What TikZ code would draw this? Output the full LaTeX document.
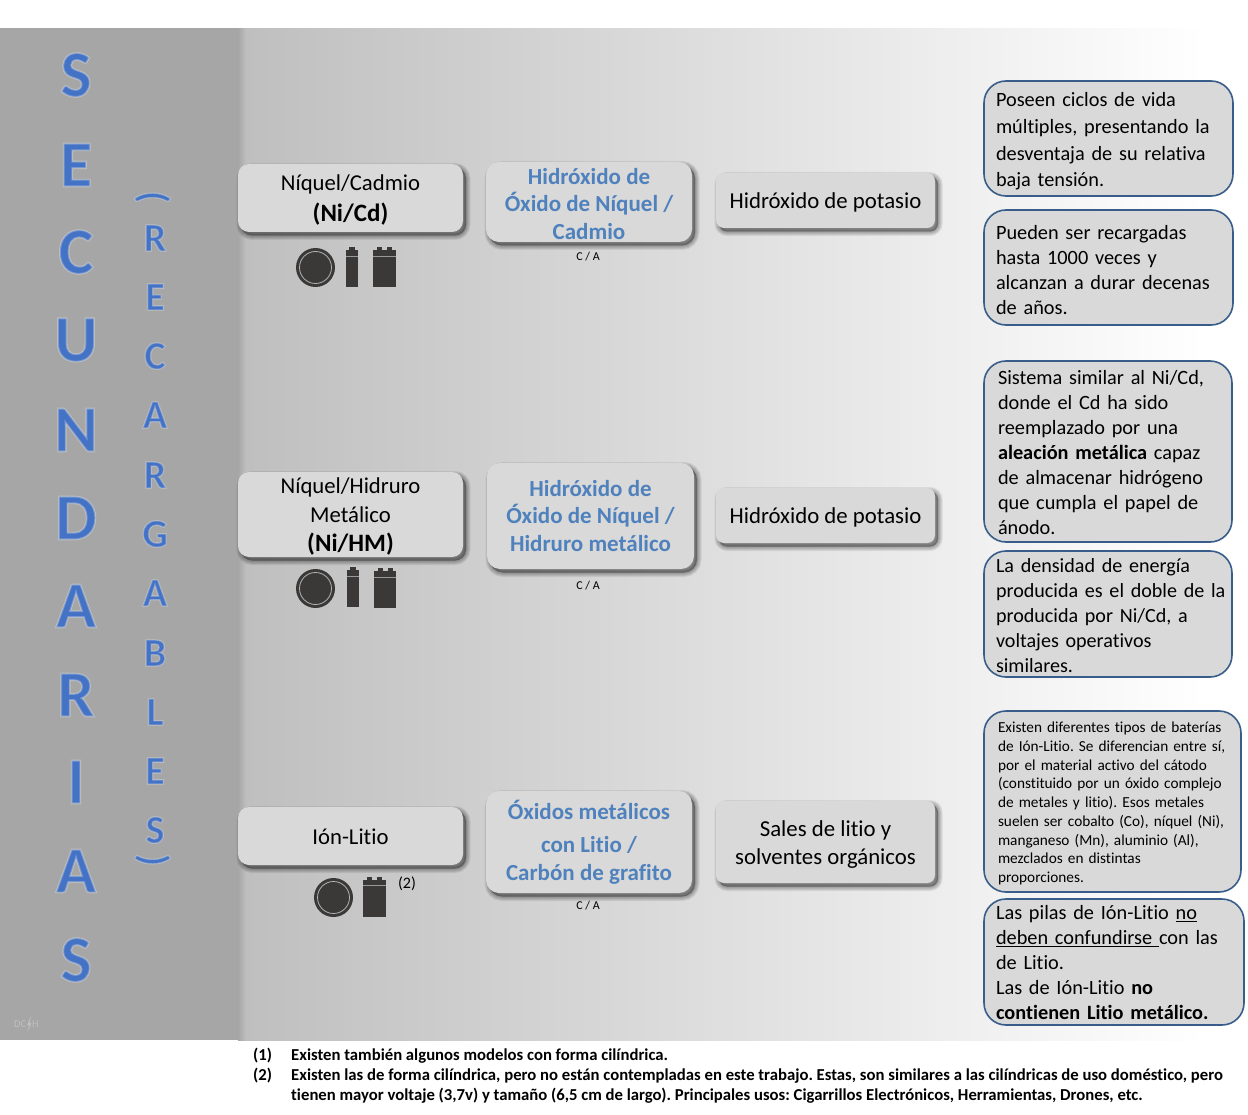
\documentclass[tikz,border=0pt]{standalone}
\usepackage{fontspec}
\setmainfont{Carlito}[Ligatures=NoCommon]
\definecolor{bandgray}{HTML}{A6A6A6}
\definecolor{startgray}{HTML}{BFBFBF}
\definecolor{boxgray}{HTML}{D9D9D9}
\definecolor{noteline}{HTML}{385D8A}
\definecolor{bluetext}{HTML}{4F81BD}
\definecolor{lettercolor}{HTML}{4472C4}
\definecolor{icondark}{HTML}{3B3838}
\newcommand{\glowtext}[2]{%
  \special{pdf:code 2 Tr #1 w 1 1 1 RG}\pgfsetstrokeopacity{.28}#2\special{pdf:code 0 Tr}}
\newcommand{\coinicon}[2]{%
  \fill[icondark] (#1,#2) circle (19.5);
  \draw[gray!60,line width=0.8pt] (#1,#2) circle (16);}
\newcommand{\cellicon}[2]{% left and top
  \fill[icondark] (#1,#2+3) rectangle (#1+12,#2+40);
  \fill[icondark] (#1+3,#2) rectangle (#1+9,#2+4);
  \draw[gray!80,line width=0.3pt] (#1,#2+9) -- (#1+12,#2+9);}
\newcommand{\nineicon}[2]{% left and top
  \fill[icondark] (#1,#2+3) rectangle (#1+22.5,#2+40);
  \fill[icondark] (#1+4,#2) rectangle (#1+9,#2+4);
  \fill[icondark] (#1+14,#2) rectangle (#1+19,#2+4);
  \draw[gray!80,line width=0.3pt] (#1,#2+9) -- (#1+22.5,#2+9);}
\tikzset{
  shadowstep/.style={preaction={fill=black,draw=black,opacity=.075,line width=#1,transform canvas={shift={(3pt,-3.5pt)}}}},
  softshadow/.style={shadowstep=9pt,shadowstep=7pt,shadowstep=5pt,shadowstep=3pt,shadowstep=1pt},
  kindbox/.style={softshadow,fill=boxgray,rounded corners=11pt,inner sep=0pt},
  kindtext/.style={inner sep=0pt,align=center,font=\fontsize{22.7}{29}\selectfont},
  activebox/.style={softshadow,fill=boxgray,rounded corners=13pt,inner sep=0pt},
  activetext/.style={inner sep=0pt,align=center,text=bluetext,font=\fontsize{23}{27.5}\selectfont\bfseries},
  liquidbox/.style={softshadow,fill=boxgray,rounded corners=8pt,inner sep=0pt},
  liquidtext/.style={inner sep=0pt,align=center,font=\fontsize{22.8}{28}\selectfont},
  notebox/.style={fill=boxgray,draw=noteline,line width=1.6pt,rounded corners=22pt,inner sep=0pt},
  notetext/.style={inner sep=0pt,align=left,font=\fontsize{20.3}{25}\selectfont},
  bigletter/.style={text=lettercolor,inner sep=0pt,font=\fontsize{66}{66}\selectfont\bfseries},
  smallletter/.style={text=lettercolor,inner sep=0pt,font=\fontsize{40}{40}\selectfont\bfseries},
  electrode/.style={inner sep=0pt,font=\fontsize{12}{12}\selectfont},
  footnum/.style={anchor=west,inner sep=0pt,font=\fontsize{16.7}{16.7}\selectfont\bfseries},
}
\begin{document}
\frenchspacing
\begin{tikzpicture}[x=1pt,y=-1pt]
  \useasboundingbox (0,0) rectangle (1248,1115);
  % background
  \fill[bandgray] (0,28.5) rectangle (238,1040);
  \shade[left color=bandgray,right color=startgray] (238,28.5) rectangle (246,1040);
  \shade[left color=startgray,right color=white] (246,28.5) rectangle (1205,1040);
  % vertical titles
  \foreach \letter/\ypos [count=\i] in {S/75,E/165,C/252,U/340,N/430,D/518,A/606,R/695,I/782,A/871,S/960}
    \node[bigletter] (big\i) at (76,\ypos) {\glowtext{1.8}{\letter}};
  \node[smallletter,rotate=-90] (openpar) at (152.5,197) {\glowtext{1.4}{(}};
  \foreach \letter/\ypos [count=\i] in {R/238,E/297,C/356,A/415,R/475,G/534,A/593,B/653,L/712,E/771,S/830}
    \node[smallletter] (small\i) at (155,\ypos) {\glowtext{1.4}{\letter}};
  \node[smallletter,rotate=-90] (closepar) at (152.5,860) {\glowtext{1.4}{)}};
  % logo
  \node[text=startgray,inner sep=0pt,anchor=east,font=\fontsize{10.5}{10.5}\selectfont] (logoleft) at (26.5,1024) {DC};
  \node[text=startgray,inner sep=0pt,anchor=west,font=\fontsize{10.5}{10.5}\selectfont] (logoright) at (32,1024) {H};
  \fill[startgray] (31,1016) -- (27,1025) -- (29,1025) -- (27.5,1032) -- (31.5,1023) -- (29.5,1023) -- cycle;
  % first row
  \node[kindbox,minimum width=225pt,minimum height=68pt] (nicd) at (350.5,198) {};
  \node[kindtext,yshift=-2pt] (nicdtext) at (nicd) {Níquel/Cadmio\\[2pt]{\fontsize{25}{30}\selectfont\bfseries (Ni/Cd)}};
  \node[activebox,minimum width=206pt,minimum height=80pt] (nicdact) at (589,202) {};
  \node[activetext,yshift=-2pt] (nicdacttext) at (nicdact) {Hidróxido de\\Óxido de Níquel /\\Cadmio};
  \node[liquidbox,minimum width=219pt,minimum height=55pt] (nicdliq) at (825.5,200.5) {};
  \node[liquidtext,yshift=-1.5pt] (nicdliqtext) at (nicdliq) {Hidróxido de potasio};
  \node[electrode] (nicdca) at (588,256.5) {C / A};
  \coinicon{315.5}{267.5}
  \cellicon{346}{247}
  \nineicon{373}{247.5}
  % second row
  \node[kindbox,minimum width=225pt,minimum height=85pt] (nihm) at (350.5,514.5) {};
  \node[kindtext,yshift=-2.5pt] (nihmtext) at (nihm) {Níquel/Hidruro\\Metálico\\{\fontsize{25}{29}\selectfont\bfseries (Ni/HM)}};
  \node[activebox,minimum width=207pt,minimum height=106pt] (nihmact) at (590.5,516) {};
  \node[activetext] (nihmacttext) at (nihmact) {Hidróxido de\\Óxido de Níquel /\\Hidruro metálico};
  \node[liquidbox,minimum width=219pt,minimum height=55pt] (nihmliq) at (825.5,515.5) {};
  \node[liquidtext,yshift=-1.5pt] (nihmliqtext) at (nihmliq) {Hidróxido de potasio};
  \node[electrode] (nihmca) at (588,585.5) {C / A};
  \coinicon{315.5}{588.5}
  \cellicon{347}{567}
  \nineicon{373.5}{568}
  % third row
  \node[kindbox,minimum width=225pt,minimum height=58pt] (liion) at (350.5,836) {};
  \node[kindtext,yshift=-1pt] (liiontext) at (liion) {Ión-Litio};
  \node[activebox,minimum width=206pt,minimum height=102pt] (liionact) at (589,842) {};
  \node[activetext] (liionacttext) at (liionact) {Óxidos metálicos\\[6pt]con Litio /\\Carbón de grafito};
  \node[liquidbox,minimum width=219pt,minimum height=82pt] (liionliq) at (825.5,842) {};
  \node[liquidtext,yshift=-3pt] (liionliqtext) at (liionliq) {Sales de litio y\\solventes orgánicos};
  \node[electrode] (liionca) at (588,905.5) {C / A};
  \node[inner sep=0pt,font=\fontsize{16}{16}\selectfont] (liionmark) at (407,883.5) {(2)};
  \coinicon{333.5}{897.5}
  \nineicon{363}{876.5}
  % notes on the right
  \node[notebox,minimum width=249pt,minimum height=115pt] (note1) at (1108.5,138.5) {};
  \node[notetext,text width=225pt,yshift=-3pt,font=\fontsize{20.3}{26.7}\selectfont] (note1text) at (note1) {Poseen ciclos de vida\\múltiples, presentando la\\desventaja de su relativa\\baja tensión.};
  \node[notebox,minimum width=249pt,minimum height=115pt] (note2) at (1108.5,267.5) {};
  \node[notetext,text width=225pt,yshift=-3pt] (note2text) at (note2) {Pueden ser recargadas\\hasta 1000 veces y\\alcanzan a durar decenas\\de años.};
  \node[notebox,minimum width=248pt,minimum height=181pt] (note3) at (1108,451.5) {};
  \node[notetext,text width=220pt,yshift=-1pt] (note3text) at (note3) {Sistema similar al Ni/Cd,\\donde el Cd ha sido\\reemplazado por una\\{\bfseries aleación metálica} capaz\\de almacenar hidrógeno\\que cumpla el papel de\\ánodo.};
  \node[notebox,minimum width=248pt,minimum height=126pt] (note4) at (1108,614) {};
  \node[notetext,text width=224pt,yshift=-1.5pt,font=\fontsize{20.1}{25}\selectfont] (note4text) at (note4) {La densidad de energía\\\makebox[224pt][l]{producida es el doble de la}\\producida por Ni/Cd, a\\voltajes operativos\\similares.};
  \node[notebox,minimum width=257pt,minimum height=181pt] (note5) at (1112.5,801.5) {};
  \node[notetext,text width=229pt,yshift=-2pt,font=\fontsize{15.3}{18.75}\selectfont] (note5text) at (note5) {Existen diferentes tipos de baterías\\de Ión-Litio. Se diferencian entre sí,\\por el material activo del cátodo\\(constituido por un óxido complejo\\de metales y litio). Esos metales\\suelen ser cobalto (Co), níquel (Ni),\\manganeso (Mn), aluminio (Al),\\mezclados en distintas\\proporciones.};
  \node[notebox,minimum width=260pt,minimum height=126pt] (note6) at (1114,962) {};
  \node[notetext,text width=236pt,yshift=-1pt] (note6text) at (note6) {Las pilas de Ión-Litio \underline{no}\\\underline{deben confundirse\ }con las\\de Litio.\\Las de Ión-Litio {\bfseries no}\\{\bfseries contienen Litio metálico.}};
  % footnotes
  \node[footnum] (num1) at (253,1056) {(1)};
  \node[footnum] (foot1) at (291,1056) {Existen también algunos modelos con forma cilíndrica.};
  \node[footnum] (num2) at (253,1076) {(2)};
  \node[footnum] (foot2) at (291,1076) {Existen las de forma cilíndrica, pero no están contempladas en este trabajo. Estas, son similares a las cilíndricas de uso doméstico, pero};
  \node[footnum] (foot3) at (291,1096) {tienen mayor voltaje (3,7v) y tamaño (6,5 cm de largo). Principales usos: Cigarrillos Electrónicos, Herramientas, Drones, etc.};
\end{tikzpicture}
\end{document}
